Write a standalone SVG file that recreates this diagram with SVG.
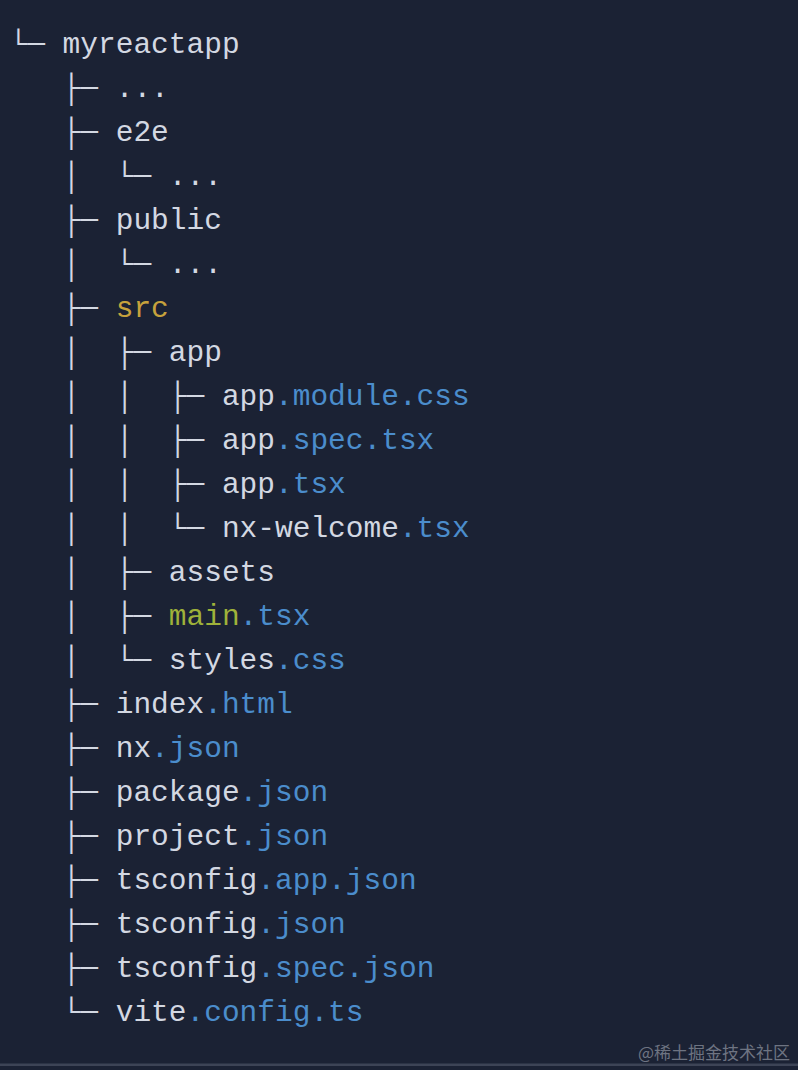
<svg xmlns="http://www.w3.org/2000/svg" width="798" height="1070" viewBox="0 0 798 1070">
<style>
text{font-family:"Liberation Mono","DejaVu Sans Mono",monospace;font-size:29.5px;fill:#d3d8e2;white-space:pre}
.t{fill:#cfd5df}
.b{fill:#4b8dcc}
.y{fill:#c7a23c}
.g{fill:#9fb23a}
.wm{font-family:"Noto Sans CJK SC",sans-serif;font-size:17px;fill:#6e7482}
</style>
<rect x="0" y="0" width="798" height="1070" fill="#1b2234"/>
<rect x="0" y="1063.5" width="798" height="2.5" fill="#3d4456"/>
<g id="connectors" class="t">
<text x="9.5" y="53">└─</text>
<text x="62.6" y="97">├─</text>
<text x="62.6" y="141">├─</text>
<text x="62.6" y="185">│  └─</text>
<text x="62.6" y="229">├─</text>
<text x="62.6" y="273">│  └─</text>
<text x="62.6" y="317">├─</text>
<text x="62.6" y="361">│  ├─</text>
<text x="62.6" y="405">│  │  ├─</text>
<text x="62.6" y="449">│  │  ├─</text>
<text x="62.6" y="493">│  │  ├─</text>
<text x="62.6" y="537">│  │  └─</text>
<text x="62.6" y="581">│  ├─</text>
<text x="62.6" y="625">│  ├─</text>
<text x="62.6" y="669">│  └─</text>
<text x="62.6" y="713">├─</text>
<text x="62.6" y="757">├─</text>
<text x="62.6" y="801">├─</text>
<text x="62.6" y="845">├─</text>
<text x="62.6" y="889">├─</text>
<text x="62.6" y="933">├─</text>
<text x="62.6" y="977">├─</text>
<text x="62.6" y="1021">└─</text>
</g>
<g id="n-myreactapp"><text x="62.6" y="53">myreactapp</text></g>
<g id="n-dots1"><text x="115.7" y="97">...</text></g>
<g id="n-e2e"><text x="115.7" y="141">e2e</text></g>
<g id="n-e2e-dots"><text x="168.8" y="185">...</text></g>
<g id="n-public"><text x="115.7" y="229">public</text></g>
<g id="n-public-dots"><text x="168.8" y="273">...</text></g>
<g id="n-src"><text x="115.7" y="317" class="y">src</text></g>
<g id="n-app"><text x="168.8" y="361">app</text></g>
<g id="n-app-module-css"><text x="221.9" y="405">app<tspan class="b">.module.css</tspan></text></g>
<g id="n-app-spec-tsx"><text x="221.9" y="449">app<tspan class="b">.spec.tsx</tspan></text></g>
<g id="n-app-tsx"><text x="221.9" y="493">app<tspan class="b">.tsx</tspan></text></g>
<g id="n-nx-welcome-tsx"><text x="221.9" y="537">nx-welcome<tspan class="b">.tsx</tspan></text></g>
<g id="n-assets"><text x="168.8" y="581">assets</text></g>
<g id="n-main-tsx"><text x="168.8" y="625"><tspan class="g">main</tspan><tspan class="b">.tsx</tspan></text></g>
<g id="n-styles-css"><text x="168.8" y="669">styles<tspan class="b">.css</tspan></text></g>
<g id="n-index-html"><text x="115.7" y="713">index<tspan class="b">.html</tspan></text></g>
<g id="n-nx-json"><text x="115.7" y="757">nx<tspan class="b">.json</tspan></text></g>
<g id="n-package-json"><text x="115.7" y="801">package<tspan class="b">.json</tspan></text></g>
<g id="n-project-json"><text x="115.7" y="845">project<tspan class="b">.json</tspan></text></g>
<g id="n-tsconfig-app-json"><text x="115.7" y="889">tsconfig<tspan class="b">.app.json</tspan></text></g>
<g id="n-tsconfig-json"><text x="115.7" y="933">tsconfig<tspan class="b">.json</tspan></text></g>
<g id="n-tsconfig-spec-json"><text x="115.7" y="977">tsconfig<tspan class="b">.spec.json</tspan></text></g>
<g id="n-vite-config-ts"><text x="115.7" y="1021">vite<tspan class="b">.config.ts</tspan></text></g>
<g id="watermark"><text class="wm" x="790" y="1059" text-anchor="end">@稀土掘金技术社区</text></g>
</svg>
